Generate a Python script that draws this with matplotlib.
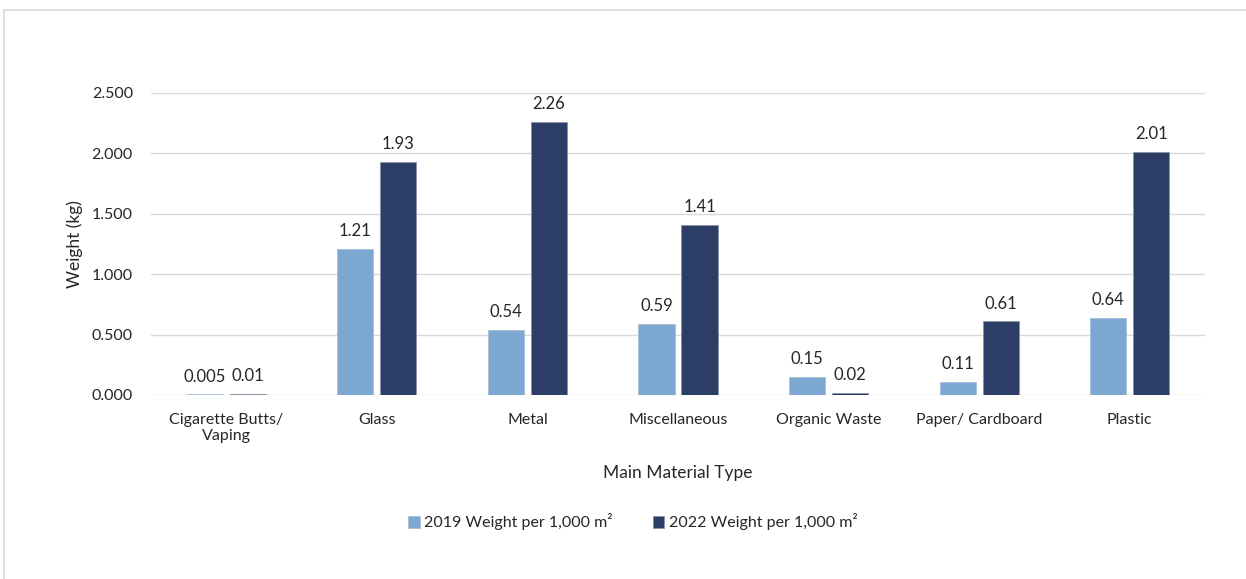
import matplotlib
matplotlib.use("Agg")
import matplotlib.pyplot as plt
import numpy as np
from matplotlib.patches import Rectangle

plt.rcParams['font.family'] = ['Lato', 'DejaVu Sans']

categories = ["Cigarette Butts/\nVaping", "Glass", "Metal", "Miscellaneous",
              "Organic Waste", "Paper/ Cardboard", "Plastic"]
weight_2019 = [0.005, 1.21, 0.54, 0.59, 0.15, 0.11, 0.64]
weight_2022 = [0.01, 1.93, 2.26, 1.41, 0.02, 0.61, 2.01]
labels_2019 = ["0.005", "1.21", "0.54", "0.59", "0.15", "0.11", "0.64"]
labels_2022 = ["0.01", "1.93", "2.26", "1.41", "0.02", "0.61", "2.01"]
yticks = [0.0, 0.5, 1.0, 1.5, 2.0, 2.5]
series_names = ["2019 Weight per 1,000 m²", "2022 Weight per 1,000 m²"]

c2019 = "#7BA7D0"
c2022 = "#2C3E66"
text_col = "#262626"

fig = plt.figure(figsize=(12.46, 5.79), dpi=100)
W, H = 1246, 579
ax = fig.add_axes([151 / W, 1 - 395 / H, (1205 - 151) / W, (395 - 93) / H])

# chart frame
fig.patches.append(Rectangle((4 / W, -0.1), 1.2, 1 - 10 / H + 0.1,
                             transform=fig.transFigure, fill=False,
                             edgecolor="#d9d9d9", linewidth=1.2))

x = np.arange(len(categories))
bw = 0.24
off = 0.143
b1 = ax.bar(x - off, weight_2019, bw, color=c2019, edgecolor="#a9bfd6",
            linewidth=0.6, label=series_names[0], zorder=3)
b2 = ax.bar(x + off, weight_2022, bw, color=c2022, edgecolor="#8a93a8",
            linewidth=0.6, label=series_names[1], zorder=3)

for bars, labs in ((b1, labels_2019), (b2, labels_2022)):
    for rect, lab in zip(bars, labs):
        ax.annotate(lab, (rect.get_x() + rect.get_width() / 2, rect.get_height()),
                    xytext=(0, 7), textcoords="offset points",
                    ha="center", va="bottom", fontsize=12, color=text_col)

ax.set_xlim(-0.5, len(categories) - 0.5)
ax.set_ylim(0, 2.5)
ax.set_yticks(yticks)
ax.set_yticklabels([f"{v:.3f}" for v in yticks], fontsize=11.5, color=text_col)
ax.set_xticks(x)
ax.set_xticklabels(categories, fontsize=11.5, color=text_col)
ax.tick_params(axis="both", length=0)
ax.tick_params(axis="y", pad=13)
ax.tick_params(axis="x", pad=13)
ax.grid(axis="y", color="#d9d9d9", linewidth=1, zorder=0)
ax.set_axisbelow(True)
for s in ax.spines.values():
    s.set_visible(False)

ax.set_ylabel("Weight (kg)", fontsize=12.5, color=text_col, labelpad=6)
ax.set_xlabel("Main Material Type", fontsize=12.5, color=text_col, labelpad=16)

fig.legend(handles=[b1, b2], labels=series_names, loc="center",
           bbox_to_anchor=(633 / W, 1 - 522 / H), ncol=2, frameon=False,
           fontsize=11.5, handlelength=0.7, handleheight=0.7, columnspacing=2.5,
           handletextpad=0.3, labelcolor=text_col)

fig.savefig("out.png", dpi=100, facecolor="white")
